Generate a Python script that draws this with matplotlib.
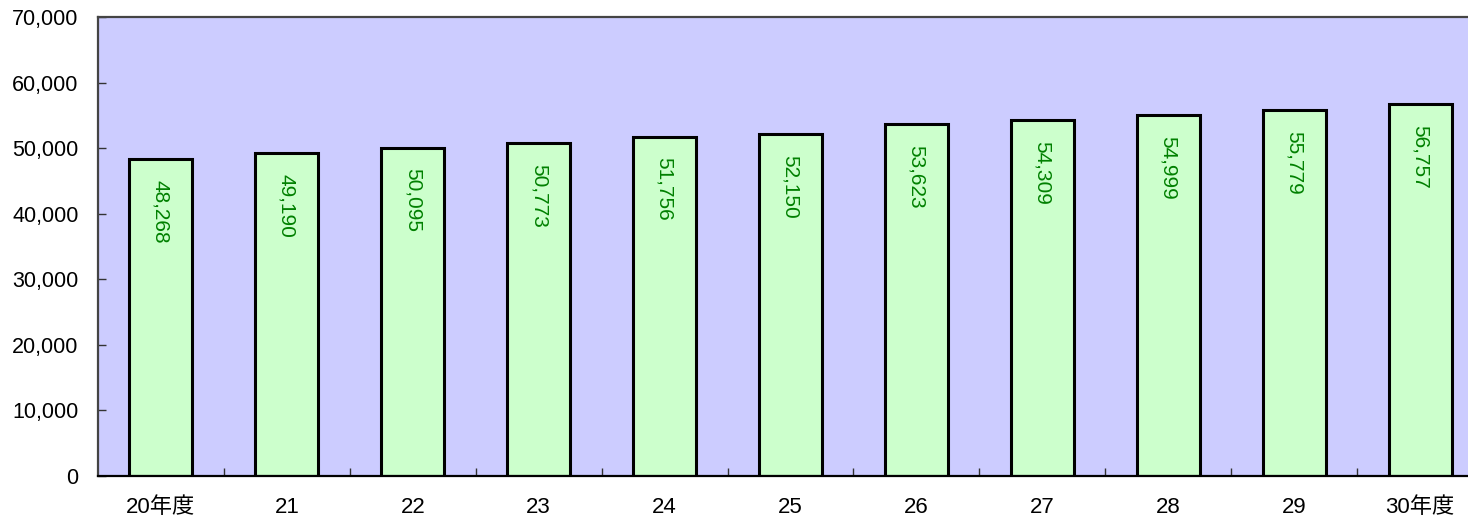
import matplotlib.pyplot as plt
from matplotlib.ticker import FuncFormatter, FixedLocator

plt.rcParams['font.family'] = ['Liberation Sans', 'Noto Sans CJK JP', 'DejaVu Sans']

# data
years = ['20年度', '21', '22', '23', '24', '25', '26', '27', '28', '29', '30年度']
values = [48268, 49190, 50095, 50773, 51756, 52150, 53623, 54309, 54999, 55779, 56757]

fig = plt.figure(figsize=(14.68, 5.21), dpi=100)
# right edge runs past the figure like the original
ax = fig.add_axes([98 / 1468, 1 - 476 / 521, (1483 - 98) / 1468, (476 - 17) / 521])
ax.set_facecolor('#CCCCFF')

x = list(range(len(years)))
bars = ax.bar(x, values, width=0.5, color='#CCFFCC', edgecolor='black', linewidth=2.2)

for xi, v in zip(x, values):
    ax.annotate(f'{v:,}', xy=(xi, v), xytext=(0, -15), textcoords='offset points',
                rotation=-90, ha='center', va='top', color='#008000', fontsize=15)

ax.set_xlim(-0.5, len(years) - 0.5)
ax.set_ylim(0, 70000)
ax.set_yticks(range(0, 70001, 10000))
ax.yaxis.set_major_formatter(FuncFormatter(lambda v, p: f'{int(v):,}'))

ax.set_xticks(x)
ax.set_xticklabels(years)
ax.xaxis.set_minor_locator(FixedLocator([i + 0.5 for i in x[:-1]]))
ax.tick_params(axis='x', which='major', length=0, pad=15, labelsize=16)
ax.tick_params(axis='x', which='minor', direction='in', length=6, width=1, color='#333333')
ax.tick_params(axis='y', direction='in', length=6, width=1, pad=14, labelsize=15.5, color='#333333')

ax.spines['right'].set_visible(False)
ax.spines['top'].set_color('#444444')
ax.spines['top'].set_linewidth(1.6)
ax.spines['left'].set_color('#444444')
ax.spines['left'].set_linewidth(1.6)
ax.spines['bottom'].set_color('black')
ax.spines['bottom'].set_linewidth(1.6)

fig.savefig('out.png', dpi=100)
